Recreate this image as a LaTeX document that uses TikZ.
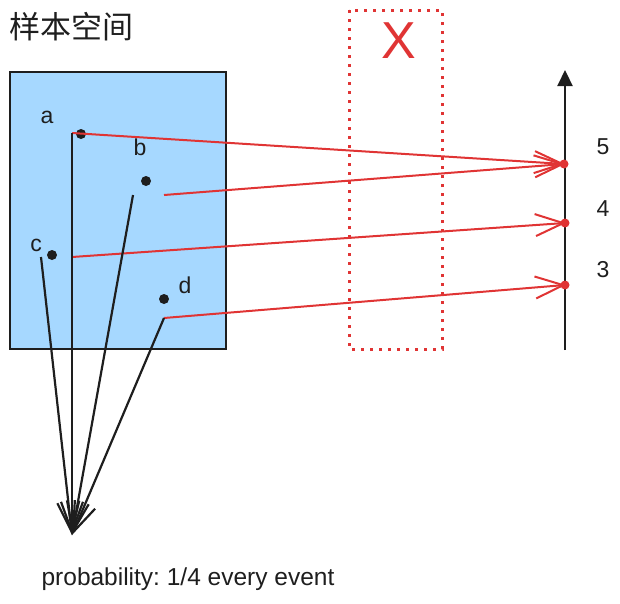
\documentclass[tikz,border=0pt]{standalone}
\usepackage{fontspec}
\setmainfont{Liberation Sans}
\newfontfamily\cjk{Noto Sans CJK SC}
\usetikzlibrary{arrows.meta}
\definecolor{myred}{HTML}{E03434}
\definecolor{myblue}{HTML}{A6D8FF}
\definecolor{myblack}{HTML}{1E1E1E}
\tikzset{
  lbl/.style={font=\fontsize{23}{27}\selectfont, text=myblack, inner sep=0pt},
  dotpt/.style={circle, fill=myblack, inner sep=0pt, minimum size=10pt},
  reddot/.style={circle, fill=myred, inner sep=0pt, minimum size=9pt},
  redarrow/.style={draw=myred, line width=2pt, -{Straight Barb[length=28pt,width=22pt,line width=2pt]}, shorten >=-1pt},
  blkarrow/.style={draw=myblack, line width=2.2pt, -{Straight Barb[length=30pt,width=22pt,line width=2.2pt]}},
}
\begin{document}
\frenchspacing
\begin{tikzpicture}[x=1pt,y=-1pt]
\useasboundingbox (0,0) rectangle (620,603);
% title
\node[font=\cjk\fontsize{31}{34}\selectfont, text=myblack, anchor=west, inner sep=0pt] (title) at (9,27) {样本空间};
% sample space
\draw[fill=myblue, draw=myblack, line width=2.2pt] (10,72) rectangle (226,349);
% dotted X box
\draw[myred, line width=3pt, dash pattern=on 3pt off 6pt] (349,10) rectangle (442,349);
\node[font=\fontsize{52}{56}\selectfont, text=myred, inner sep=0pt] (X) at (399,41) {X};
% points
\node[dotpt] (pa) at (81,134) {};
\node[dotpt] (pb) at (146,181) {};
\node[dotpt] (pc) at (52,255) {};
\node[dotpt] (pd) at (164,299) {};
\node[lbl] (la) at (47,117) {a};
\node[lbl] (lb) at (140,147) {b};
\node[lbl] (lc) at (36,245) {c};
\node[lbl] (ld) at (185,285) {d};
% axis
\coordinate (axb) at (565,350);
\coordinate (axt) at (565,70);
\draw[myblack, line width=2.2pt, -{Triangle[length=16pt,width=15pt]}] (axb) -- (axt);
\node[reddot] (v5) at (564,164) {};
\node[reddot] (v4) at (565,223) {};
\node[reddot] (v3) at (565,285) {};
\node[lbl] (l5) at (603,147) {5};
\node[lbl] (l4) at (603,209) {4};
\node[lbl] (l3) at (603,270) {3};
% start coordinates
\coordinate (sa) at (72,133);
\coordinate (sb) at (164,195);
\coordinate (sc) at (72,257);
\coordinate (sd) at (164,318);
\coordinate (kb) at (133,195);
\coordinate (kc) at (41,257);
\coordinate (bot) at (72,535);
% red mappings
\draw[redarrow] (sa) -- (v5.center);
\draw[redarrow] (sb) -- (v5.center);
\draw[redarrow] (sc) -- (v4.center);
\draw[redarrow] (sd) -- (v3.center);
% black lines to probability
\draw[blkarrow] (sa) -- (bot);
\draw[blkarrow] (kb) -- (bot);
\draw[blkarrow] (kc) -- (bot);
\draw[blkarrow] (sd) -- (bot);
\node[font=\fontsize{24.5}{28}\selectfont, text=myblack, inner sep=0pt] (prob) at (188,579) {probability: 1/4 every event};
\end{tikzpicture}
\end{document}
